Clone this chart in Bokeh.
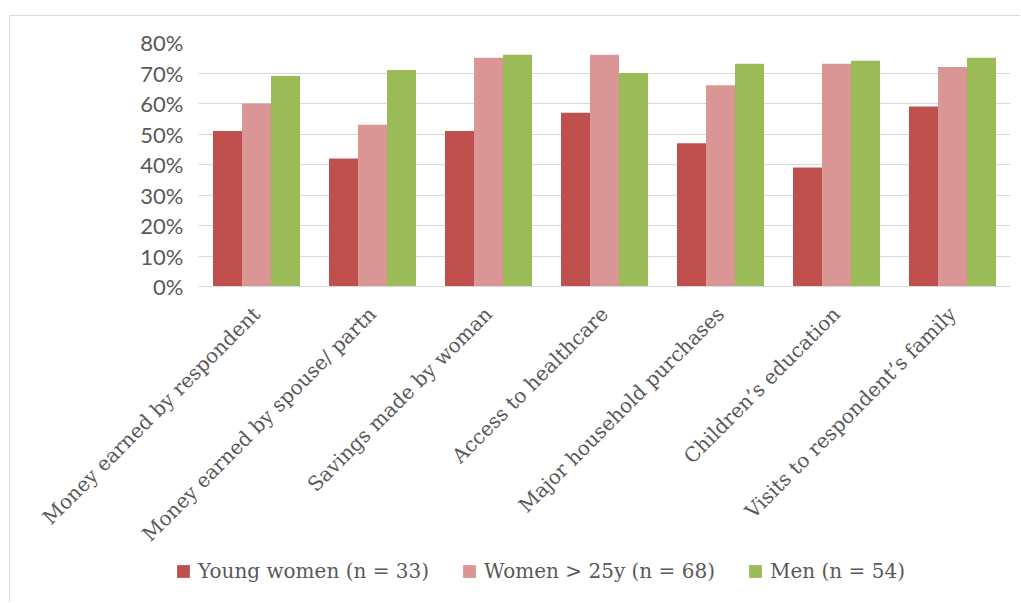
import math

from bokeh.embed import file_html
from bokeh.models import (FactorRange, FixedTicker, Legend, LegendItem,
                          PrintfTickFormatter, Range1d)
from bokeh.plotting import figure
from bokeh.resources import INLINE
from bokeh.transform import dodge

# Share of respondents (%) per decision area and group
categories = [
    "Money earned by respondent",
    "Money earned by spouse/ partn",
    "Savings made by woman",
    "Access to healthcare",
    "Major household purchases",
    "Children\u2019s education",
    "Visits to respondent\u2019s family",
]
young_women = [51, 42, 51, 57, 47, 39, 59]
women_over_25 = [60, 53, 75, 76, 66, 73, 72]
men = [69, 71, 76, 70, 73, 74, 75]

series_names = ["Young women (n = 33)", "Women > 25y (n = 68)", "Men (n = 54)"]
series_colors = ["#C0504D", "#D99694", "#9BBB59"]
y_ticks = [0, 10, 20, 30, 40, 50, 60, 70, 80]

source = dict(cat=categories, young=young_women, older=women_over_25, men=men)

TEXT_GREY = "#595959"
GRID_GREY = "#d9d9d9"

# ---- main chart -----------------------------------------------------------
p = figure(
    x_range=FactorRange(*categories),
    y_range=Range1d(0, 80),
    width=1011,
    height=543,
    output_backend="svg",
    toolbar_location=None,
    min_border_left=188,
    min_border_right=11,
    min_border_top=26,
    min_border_bottom=273,
)
p.margin = (15, 0, 0, 9)
p.styles = {"border-left": f"1px solid {GRID_GREY}", "border-top": f"1px solid {GRID_GREY}"}
p.outline_line_color = None
p.border_fill_color = "white"

for field, offset, color in zip(["young", "older", "men"], [-0.25, 0.0, 0.25], series_colors):
    p.vbar(
        x=dodge("cat", offset, range=p.x_range),
        top=field,
        width=0.25,
        source=source,
        fill_color=color,
        line_color=None,
    )

# Y axis: percentage ticks, no axis line
p.yaxis.ticker = FixedTicker(ticks=y_ticks)
p.yaxis.formatter = PrintfTickFormatter(format="%d%%")
p.yaxis.axis_line_color = None
p.yaxis.major_tick_line_color = None
p.yaxis.minor_tick_line_color = None
p.yaxis.major_tick_out = 0
p.yaxis.major_tick_in = 0
p.yaxis.major_label_standoff = 15
p.yaxis.major_label_text_font = "Lato"
p.yaxis.major_label_text_font_size = "22px"
p.yaxis.major_label_text_color = TEXT_GREY

# X axis: slanted category names
p.xaxis.axis_line_color = GRID_GREY
p.xaxis.major_tick_line_color = None
p.xaxis.major_tick_out = 0
p.xaxis.major_tick_in = 0
p.xaxis.major_label_orientation = math.pi / 4
p.xaxis.major_label_standoff = 24
p.xaxis.major_label_text_font = "DejaVu Serif"
p.xaxis.major_label_text_font_size = "20px"
p.xaxis.major_label_text_color = TEXT_GREY

p.xgrid.grid_line_color = None
p.ygrid.grid_line_color = GRID_GREY
p.ygrid.ticker = FixedTicker(ticks=y_ticks)

# ---- legend strip (separate root, so its frame spans the full width) -------
leg = figure(
    x_range=Range1d(0, 1),
    y_range=Range1d(0, 1),
    width=1011,
    height=44,
    output_backend="svg",
    toolbar_location=None,
    x_axis_location=None,
    y_axis_location=None,
    min_border=0,
)
leg.margin = (0, 0, 0, 9)
leg.styles = {"border-left": f"1px solid {GRID_GREY}"}
leg.grid.visible = False
leg.outline_line_color = None

# zero-height proxies that only carry the swatch colours
swatches = [
    leg.vbar(x=[0.5], top=[0], bottom=[0], width=0, fill_color=c, line_color=None)
    for c in series_colors
]

legend = Legend(
    items=[LegendItem(label=n, renderers=[r]) for n, r in zip(series_names, swatches)],
    orientation="horizontal",
    location=(165, 19),
    border_line_color=None,
    background_fill_alpha=0,
    padding=0,
    margin=0,
    spacing=32,
    glyph_width=16,
    glyph_height=16,
    label_standoff=7,
    label_text_font="DejaVu Serif",
    label_text_font_size="20px",
    label_text_color=TEXT_GREY,
)
leg.add_layout(legend)

open("out.html", "w").write(file_html([p, leg], INLINE))
